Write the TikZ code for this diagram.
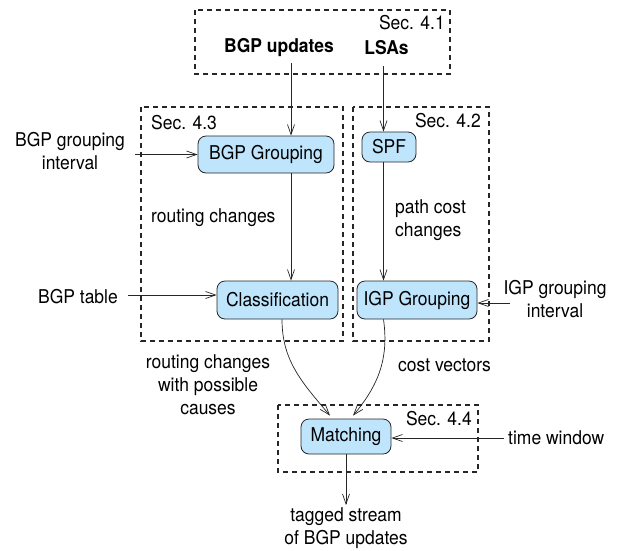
\documentclass[tikz,border=0pt]{standalone}
\usepackage{fontspec}
\setmainfont[FakeStretch=0.92]{TeX Gyre Heros}
\usepackage{tikz}
\usetikzlibrary{arrows.meta}
\definecolor{nodefill}{RGB}{190,229,252}
\begin{document}
\begin{tikzpicture}[x=1pt,y=-1pt,
        font=\fontsize{19}{23}\selectfont,
        box/.style={draw=black!85,fill=nodefill,rounded corners=8pt,line width=0.8pt,inner sep=0pt,minimum height=37pt},
        sec/.style={draw=black!85,dashed,dash pattern=on 5pt off 4pt,line width=1.1pt},
        flow/.style={draw=black!85,-{Straight Barb[length=10pt,width=7pt]},line width=0.7pt},
        lbl/.style={inner sep=0pt,align=center}]
    \useasboundingbox (0,0) rectangle (621,550);
    \draw[sec] (195,10) rectangle (450,74);
    \draw[sec] (141,107) rectangle (343,341);
    \draw[sec] (353,107) rectangle (489,341);
    \draw[sec] (278,405) rectangle (478,472);
    \node[lbl,anchor=east] (sec41) at (445,23) {Sec. 4.1};
    \node[lbl,anchor=west] (sec43) at (151,123) {Sec. 4.3};
    \node[lbl,anchor=east] (sec42) at (481,121) {Sec. 4.2};
    \node[lbl,anchor=east] (sec44) at (472,419) {Sec. 4.4};
    \node[lbl,font=\fontsize{19}{23}\selectfont\bfseries] (updates) at (279,48) {BGP updates};
    \node[lbl,font=\fontsize{19}{23}\selectfont\bfseries] (lsas) at (386.5,48) {LSAs};
    \node[box,minimum width=136pt] (bgpgroup) at (266,154.5) {BGP Grouping};
    \node[box,minimum width=54pt,minimum height=30pt] (spf) at (389,147) {SPF};
    \node[box,minimum width=121pt,minimum height=38pt] (classif) at (277.5,300) {Classification};
    \node[box,minimum width=120pt,minimum height=38pt] (igpgroup) at (417,300) {IGP Grouping};
    \node[box,minimum width=90pt,minimum height=35pt] (matching) at (346,436.5) {Matching};
    \node[lbl] (bgpint) at (70,151) {BGP grouping\\interval};
    \node[lbl,anchor=east] (bgptable) at (118,297) {BGP table};
    \node[lbl] (igpint) at (555,299) {IGP grouping\\interval};
    \node[lbl,anchor=west] (timewin) at (508,438) {time window};
    \node[lbl,anchor=west] (routch) at (151,218) {routing changes};
    \node[lbl,anchor=west,align=left] (pathch) at (395,220) {path cost\\changes};
    \node[lbl] (causes) at (208,384.5) {routing changes\\with possible\\causes};
    \node[lbl,anchor=west] (costvec) at (398,365) {cost vectors};
    \node[lbl] (tagged) at (346,528.5) {tagged stream\\of BGP updates};
    \coordinate (bgpin) at (291,63);
    \coordinate (lsain) at (383.5,66);
    \coordinate (bgpintout) at (135,154.5);
    \coordinate (tableout) at (128,295);
    \coordinate (igpintout) at (510,303);
    \coordinate (timeout) at (504,438);
    \coordinate (tagin) at (346,505);
    \draw[flow] (bgpin) -- (bgpin |- bgpgroup.north);
    \draw[flow] (lsain) -- (lsain |- spf.north);
    \draw[flow] (bgpin |- bgpgroup.south) -- (bgpin |- classif.north);
    \draw[flow] (lsain |- spf.south) -- (lsain |- igpgroup.north);
    \draw[flow] (bgpintout) -- (bgpgroup.west);
    \draw[flow] (tableout) -- ([yshift=5pt]classif.west);
    \draw[flow] (igpintout) -- ([yshift=-3pt]igpgroup.east);
    \draw[flow] (timeout) -- ([yshift=-1.5pt]matching.east);
    \draw[flow] ([xshift=4.5pt]classif.south) to[out=-90,in=130] ([xshift=-16pt,yshift=3pt]matching.north);
    \draw[flow] (lsain |- igpgroup.south) to[out=-82,in=50] ([xshift=7pt,yshift=3pt]matching.north);
    \draw[flow] (matching.south) -- (tagin);
\end{tikzpicture}
\end{document}
